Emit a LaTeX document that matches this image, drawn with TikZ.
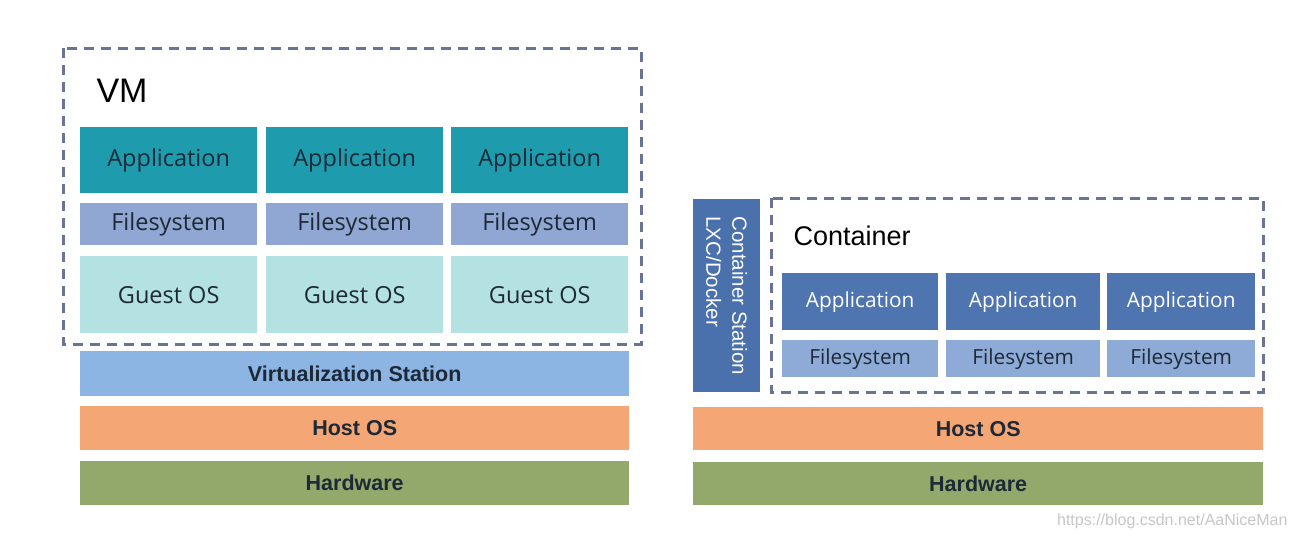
\documentclass[tikz,border=0pt]{standalone}
\usepackage{fontspec}
\newfontfamily\seg{Open Sans}
\newfontfamily\ari{Liberation Sans}
\definecolor{vmapp}{HTML}{1E9BAD}
\definecolor{vmfs}{HTML}{8FA7D2}
\definecolor{guest}{HTML}{B4E1E1}
\definecolor{virt}{HTML}{8DB5E3}
\definecolor{host}{HTML}{F4A674}
\definecolor{hw}{HTML}{93A96C}
\definecolor{capp}{HTML}{4E75B0}
\definecolor{cfs}{HTML}{8EABD7}
\definecolor{cstat}{HTML}{4A71AC}
\definecolor{dash}{HTML}{6B7394}
\definecolor{txt}{HTML}{1D2936}
\begin{document}
\begin{tikzpicture}[x=1pt,y=-1pt,
  blk/.style={draw=none,inner sep=0pt,anchor=north west,text=txt},
  segtxt/.style={font=\seg\fontsize{23.5}{27}\selectfont},
  segsm/.style={font=\seg\fontsize{20.8}{24}\selectfont},
  aritxt/.style={font=\ari\bfseries\fontsize{21.5}{25}\selectfont},
  dashbox/.style={draw=dash,line width=3pt,dash pattern=on 10pt off 7pt}]
\useasboundingbox[fill=white] (0,0) rectangle (1295,538);
% VM side
\draw[dashbox] (63,48) rectangle (641,344);
\node[anchor=west,font=\ari\fontsize{34}{38}\selectfont] (vm) at (93,91) {VM};
\foreach \i/\x in {1/80,2/266,3/451}{
  \node[blk,segtxt,fill=vmapp,minimum width=177pt,minimum height=66pt] (va\i) at (\x,127) {Application};
  \node[blk,segtxt,fill=vmfs,minimum width=177pt,minimum height=42pt] (vf\i) at (\x,203) {Filesystem};
  \node[blk,segtxt,fill=guest,minimum width=177pt,minimum height=77pt] (vg\i) at (\x,256) {Guest OS};
}
\node[blk,aritxt,fill=virt,minimum width=549pt,minimum height=45pt] (vs) at (80,351) {Virtualization Station};
\node[blk,aritxt,fill=host,minimum width=549pt,minimum height=44pt] (vh) at (80,406) {Host OS};
\node[blk,aritxt,fill=hw,minimum width=549pt,minimum height=44pt] (vw) at (80,461) {Hardware};
% Container side
\node[blk,fill=cstat,minimum width=67pt,minimum height=193pt] (cs) at (693,199) {};
\node[font=\ari\fontsize{20.5}{26}\selectfont,text=white,rotate=-90,align=left] (cst) at (cs.center) {Container Station\\LXC/Docker};
\draw[dashbox] (771,198) rectangle (1263,392);
\node[anchor=west,font=\ari\fontsize{27}{31}\selectfont] (ct) at (790,236) {Container};
\foreach \i/\x/\w in {1/782/156,2/946/154,3/1107/148}{
  \node[blk,segsm,fill=capp,text=white,minimum width=\w pt,minimum height=57pt] (ca\i) at (\x,273) {Application};
  \node[blk,segsm,fill=cfs,minimum width=\w pt,minimum height=37pt] (cf\i) at (\x,340) {Filesystem};
}
\node[blk,aritxt,fill=host,minimum width=570pt,minimum height=43pt] (ch) at (693,407) {Host OS};
\node[blk,aritxt,fill=hw,minimum width=570pt,minimum height=43pt] (cw) at (693,462) {Hardware};
\node[anchor=east,font=\ari\fontsize{16}{18}\selectfont,text=black!22] (wm) at (1291,521) {https://blog.csdn.net/AaNiceMan};
\end{tikzpicture}
\end{document}
